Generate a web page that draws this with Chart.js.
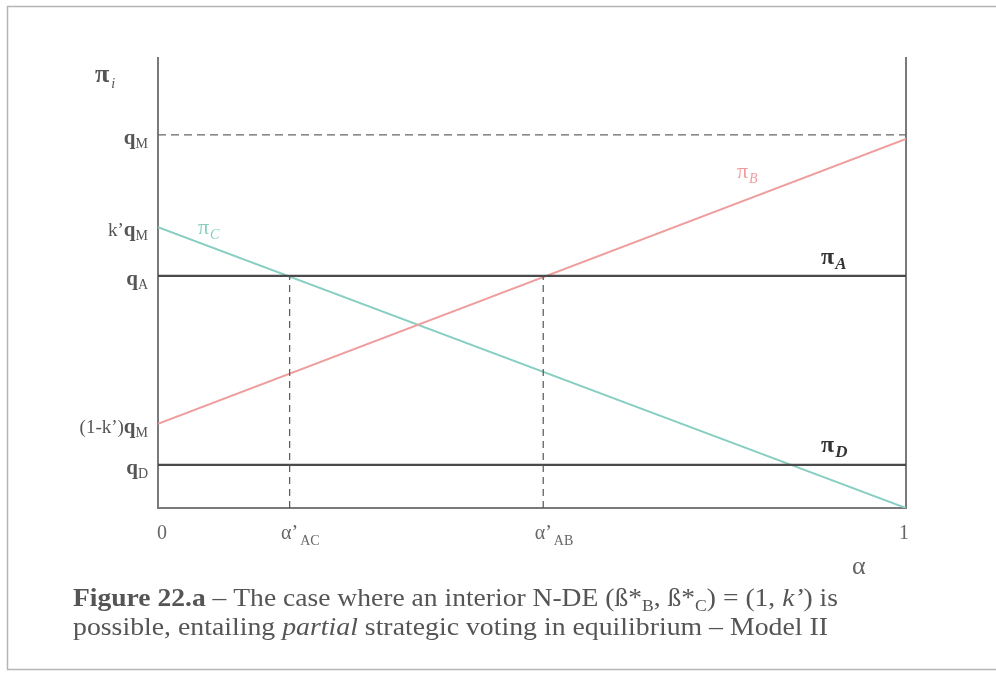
<!DOCTYPE html>
<html>
<head>
<meta charset="utf-8">
<script src="https://cdn.jsdelivr.net/npm/chart.js@4/dist/chart.umd.min.js"></script>
<style>
  html, body { margin: 0; padding: 0; background: #fff; }
  #wrap { position: relative; width: 996px; height: 673px; }
  canvas { display: block; }
</style>
</head>
<body>
<div id="wrap"><canvas id="chart" width="996" height="673"></canvas></div>
<script>
// Valores (eixo y em unidades arbitrárias 0..10, eixo x = alfa 0..1)
const alphaPts = [0, 1];
const qM = 8.29;
const kqM = 6.24;
const qA = 5.16;
const oneMinusKqM = 1.87;
const qD = 0.96;
const piBEnd = 8.2;
const piCEnd = 0;
const alphaAC = 0.176;
const alphaAB = 0.515;

const yTickValues = [qM, kqM, qA, oneMinusKqM, qD];
const yTickLabels = [['', 'q', 'M'], ['k\u2019', 'q', 'M'], ['', 'q', 'A'], ['(1-k\u2019)', 'q', 'M'], ['', 'q', 'D']];
const xTickValues = [0, alphaAC, alphaAB, 1];
const xTickLabels = [['0', ''], ['\u03b1\u2019', 'AC'], ['\u03b1\u2019', 'AB'], ['1', '']];

const piA = [qA, qA];
const piD = [qD, qD];
const piB = [oneMinusKqM, piBEnd];
const piC = [kqM, piCEnd];

const SERIF = '"Liberation Serif", "Times New Roman", serif';
const DARK = '#4a4a4a';
const TEAL = '#86cfc1';
const PINK = '#ef9d9d';

function pts(ys) {
    return alphaPts.map((x, i) => ({ x: x, y: ys[i] }));
}

// Desenha rótulos com subscrito
function subText(ctx, x, y, pre, main, sub, opts) {
    ctx.save();
    ctx.textBaseline = 'alphabetic';
    ctx.fillStyle = opts.color;
    ctx.font = opts.preFont;
    const w1 = ctx.measureText(pre).width;
    ctx.font = opts.mainFont;
    const w2 = ctx.measureText(main).width;
    ctx.font = opts.subFont;
    const w3 = ctx.measureText(sub).width;
    let x0 = opts.align === 'right' ? x - (w1 + w2 + w3) : (opts.align === 'center' ? x - (w1 + w2) / 2 : x);
    ctx.font = opts.preFont;
    ctx.fillText(pre, x0, y);
    ctx.font = opts.mainFont;
    ctx.fillText(main, x0 + w1, y);
    ctx.font = opts.subFont;
    ctx.fillText(sub, x0 + w1 + w2 + (opts.subGap || 0), y + opts.subDrop);
    ctx.restore();
}

// Linha de texto com partes de estilos diferentes, esticada até a largura alvo
function richLine(ctx, parts, x, y, targetW) {
    let w = 0;
    parts.forEach(p => { ctx.font = p[0]; w += ctx.measureText(p[1]).width; });
    ctx.save();
    ctx.translate(x, y);
    ctx.scale(targetW / w, 1);
    let cx = 0;
    parts.forEach(p => {
        ctx.font = p[0];
        ctx.fillText(p[1], cx, p[2] || 0);
        cx += ctx.measureText(p[1]).width;
    });
    ctx.restore();
}

const labelsPlugin = {
    id: 'labels',
    afterDraw(chart) {
        const ctx = chart.ctx;
        const xs = chart.scales.x;
        const ys = chart.scales.y;

        // moldura
        ctx.save();
        ctx.strokeStyle = '#b5b5b5';
        ctx.lineWidth = 1.5;
        ctx.beginPath();
        ctx.moveTo(1000, 6.5);
        ctx.lineTo(7.5, 6.5);
        ctx.lineTo(7.5, 669.5);
        ctx.lineTo(1000, 669.5);
        ctx.stroke();
        ctx.restore();

        // rótulos do eixo y
        yTickValues.forEach((v, i) => {
            const lab = yTickLabels[i];
            subText(ctx, 148, ys.getPixelForValue(v) + 9, lab[0], lab[1], lab[2], {
                color: '#555', preFont: '19px ' + SERIF, mainFont: 'bold 21px ' + SERIF,
                subFont: '14px ' + SERIF, subDrop: 4, align: 'right'
            });
        });

        // pi_i no topo
        subText(ctx, 95, 82, '', '\u03c0', 'i', {
            color: '#555', preFont: '24px ' + SERIF, mainFont: 'bold 26px ' + SERIF,
            subFont: 'italic 14px ' + SERIF, subDrop: 6, subGap: 2, align: 'left'
        });

        // rótulos do eixo x
        xTickValues.forEach((v, i) => {
            const lab = xTickLabels[i];
            const px = xs.getPixelForValue(v);
            subText(ctx, px + (i === 0 ? 4 : (i === 3 ? -2 : 0)), 539, '', lab[0], lab[1], {
                color: '#666', preFont: '18px ' + SERIF, mainFont: '20px ' + SERIF,
                subFont: '14px ' + SERIF, subDrop: 6, subGap: 2, align: 'center'
            });
        });

        // alfa
        ctx.save();
        ctx.fillStyle = '#666';
        ctx.font = '26px ' + SERIF;
        ctx.fillText('\u03b1', 852, 574);
        ctx.restore();

        // nomes das curvas
        subText(ctx, 198, 234, '', '\u03c0', 'C', {
            color: TEAL, preFont: '20px ' + SERIF, mainFont: '22px ' + SERIF,
            subFont: 'italic 14px ' + SERIF, subDrop: 5, subGap: 1, align: 'left'
        });
        subText(ctx, 737, 178, '', '\u03c0', 'B', {
            color: PINK, preFont: '20px ' + SERIF, mainFont: '22px ' + SERIF,
            subFont: 'italic 14px ' + SERIF, subDrop: 5, subGap: 1, align: 'left'
        });
        subText(ctx, 821, 264, '', '\u03c0', 'A', {
            color: '#333', preFont: '20px ' + SERIF, mainFont: 'bold 24px ' + SERIF,
            subFont: 'italic bold 17px ' + SERIF, subDrop: 5, subGap: 1, align: 'left'
        });
        subText(ctx, 821, 452, '', '\u03c0', 'D', {
            color: '#333', preFont: '20px ' + SERIF, mainFont: 'bold 24px ' + SERIF,
            subFont: 'italic bold 17px ' + SERIF, subDrop: 5, subGap: 1, align: 'left'
        });

        // legenda da figura
        ctx.save();
        ctx.fillStyle = '#555';
        ctx.textBaseline = 'alphabetic';
        const F = '25px ' + SERIF;
        richLine(ctx, [
            ['bold 25px ' + SERIF, 'Figure 22.a'],
            [F, ' \u2013 The case where an interior N-DE (\u00df*'],
            ['16px ' + SERIF, 'B', 5],
            [F, ', \u00df*'],
            ['16px ' + SERIF, 'C', 5],
            [F, ') = (1, '],
            ['italic 25px ' + SERIF, 'k\u2019'],
            [F, ') is']
        ], 73, 606, 765);
        richLine(ctx, [
            [F, 'possible, entailing '],
            ['italic 25px ' + SERIF, 'partial'],
            [F, ' strategic voting in equilibrium \u2013 Model II']
        ], 73, 635, 755);
        ctx.restore();
    }
};

const ctx = document.getElementById('chart');
new Chart(ctx, {
    type: 'scatter',
    data: {
        datasets: [
            { label: 'qM', data: pts([qM, qM]), borderColor: '#666', borderWidth: 1.2, borderDash: [8, 5] },
            { label: 'alphaAC', data: [{ x: alphaAC, y: 0 }, { x: alphaAC, y: qA }], borderColor: '#555', borderWidth: 1.2, borderDash: [7, 5] },
            { label: 'alphaAB', data: [{ x: alphaAB, y: 0 }, { x: alphaAB, y: qA }], borderColor: '#555', borderWidth: 1.2, borderDash: [7, 5] },
            { label: 'piA', data: pts(piA), borderColor: DARK, borderWidth: 2.2 },
            { label: 'piD', data: pts(piD), borderColor: DARK, borderWidth: 2.2 },
            { label: 'piB', data: pts(piB), borderColor: PINK, borderWidth: 2 },
            { label: 'piC', data: pts(piC), borderColor: TEAL, borderWidth: 2 }
        ].map(d => Object.assign(d, { showLine: true, pointRadius: 0, fill: false, tension: 0 }))
    },
    options: {
        responsive: false,
        animation: false,
        layout: { padding: { left: 150, right: 82, top: 58, bottom: 157 } },
        plugins: { legend: { display: false }, tooltip: { enabled: false } },
        scales: {
            x: {
                type: 'linear', min: 0, max: 1,
                grid: { display: false },
                ticks: { display: false },
                border: { display: true, color: '#7a7a7a', width: 2 }
            },
            y: {
                type: 'linear', min: 0, max: 10,
                grid: { display: false },
                ticks: { display: false },
                border: { display: true, color: '#7a7a7a', width: 2 }
            },
            y2: {
                type: 'linear', position: 'right', min: 0, max: 10,
                grid: { display: false },
                ticks: { display: false },
                border: { display: true, color: '#7a7a7a', width: 2 }
            }
        }
    },
    plugins: [labelsPlugin]
});
</script>
</body>
</html>
